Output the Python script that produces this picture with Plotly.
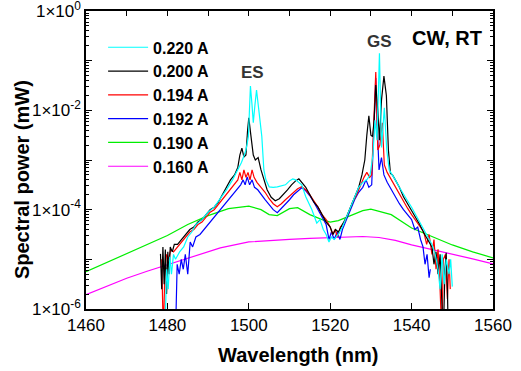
import plotly.graph_objects as go

# ---- data: wavelength (nm) and log10 of spectral power (mW) ----
wl_220 = [1479.4,1479.8,1480.2,1480.6,1481.0,1481.5,1482.0,1483.0,1484.0,1485.0,1486.0,1487.0,1488.5,1490.0,1491.5,1493.0,1494.5,1496.0,1497.3,1498.2,1498.7,1499.3,1499.9,1500.4,1500.8,1501.1,1501.5,1501.9,1502.4,1503.2,1503.7,1504.2,1505.0,1506.0,1507.0,1508.0,1509.0,1510.0,1510.8,1511.5,1512.3,1513.0,1514.0,1515.5,1516.7,1517.5,1518.3,1519.0,1519.7,1520.3,1521.0,1522.0,1523.0,1524.0,1525.0,1526.0,1527.0,1528.0,1529.0,1529.8,1530.5,1531.0,1531.5,1532.1,1532.6,1533.3,1533.9,1534.5,1535.3,1536.0,1537.0,1538.0,1539.0,1540.0,1541.0,1542.0,1543.0,1544.0,1545.0,1545.8,1546.5,1547.0,1547.5,1548.0,1548.5,1549.2,1549.6,1550.0]
lg_220 = [-6.5,-5.2,-5.6,-4.95,-5.3,-4.9,-5.0,-4.85,-4.75,-4.55,-4.45,-4.3,-4.2,-4.05,-3.95,-3.78,-3.6,-3.4,-3.2,-3.05,-2.94,-2.8,-2.53,-1.51,-1.9,-2.25,-1.9,-1.59,-1.95,-2.53,-3.2,-3.4,-3.54,-3.55,-3.54,-3.52,-3.5,-3.42,-3.38,-3.4,-3.45,-3.5,-3.74,-4.0,-4.27,-4.2,-4.4,-4.5,-4.65,-4.55,-4.6,-4.5,-4.35,-4.15,-3.95,-3.75,-3.55,-3.45,-3.4,-3.3,-2.9,-2.2,-2.6,-0.85,-2.75,-1.95,-2.8,-3.2,-3.3,-3.4,-3.55,-3.7,-3.82,-3.95,-4.1,-4.25,-4.42,-4.55,-4.7,-4.9,-5.2,-5.6,-4.9,-5.5,-5.0,-5.3,-5.0,-5.55]

wl_200 = [1478.3,1478.6,1478.9,1479.2,1479.5,1479.8,1480.1,1480.4,1480.7,1481.2,1481.7,1482.5,1483.5,1484.5,1485.5,1486.5,1487.5,1488.5,1489.5,1490.5,1491.5,1492.5,1493.5,1494.5,1495.5,1496.5,1497.3,1497.8,1498.3,1498.8,1499.3,1499.7,1500.0,1500.5,1501.1,1501.6,1502.3,1503.0,1503.7,1504.5,1505.5,1506.5,1507.5,1508.5,1509.5,1510.5,1511.5,1512.3,1513.0,1514.0,1515.0,1516.0,1517.0,1518.0,1519.0,1520.0,1520.7,1521.3,1522.0,1523.0,1524.0,1525.0,1526.0,1527.0,1527.8,1528.5,1529.0,1529.5,1530.0,1530.4,1530.8,1531.2,1531.7,1532.1,1532.6,1533.2,1533.8,1534.3,1534.8,1535.3,1536.0,1537.0,1538.0,1539.0,1540.0,1541.0,1542.0,1543.0,1544.0,1545.0,1545.5,1546.0,1546.5,1547.0,1547.4,1547.8,1548.2,1548.5,1548.8,1549.0]
lg_200 = [-4.89,-5.6,-4.75,-5.5,-4.8,-5.7,-4.85,-5.3,-4.75,-4.85,-4.7,-4.7,-4.6,-4.5,-4.4,-4.35,-4.25,-4.2,-4.1,-4.0,-3.95,-3.85,-3.7,-3.55,-3.4,-3.3,-3.15,-2.9,-2.76,-2.94,-2.9,-2.4,-2.15,-2.5,-2.9,-3.0,-2.95,-3.2,-3.4,-3.6,-3.75,-3.82,-3.78,-3.7,-3.6,-3.5,-3.42,-3.38,-3.45,-3.55,-3.7,-3.85,-3.95,-4.1,-4.25,-4.35,-4.5,-4.4,-4.45,-4.3,-4.15,-3.95,-3.75,-3.55,-3.3,-3.0,-2.5,-2.11,-2.5,-2.53,-2.2,-1.49,-2.0,-2.6,-1.8,-1.31,-1.7,-2.8,-3.27,-3.3,-3.4,-3.55,-3.74,-3.88,-4.0,-4.15,-4.3,-4.47,-4.6,-4.75,-5.1,-4.85,-5.3,-4.9,-5.8,-6.5,-5.2,-4.87,-5.6,-6.5]

wl_194 = [1478.6,1479.0,1479.4,1479.8,1480.3,1480.8,1481.5,1482.5,1483.5,1484.5,1485.5,1486.5,1487.5,1488.5,1489.5,1490.5,1491.5,1492.5,1493.5,1494.5,1495.5,1496.5,1497.3,1497.8,1498.3,1498.8,1499.3,1499.8,1500.3,1500.8,1501.3,1502.0,1503.0,1504.0,1505.0,1506.0,1507.0,1508.0,1509.0,1510.0,1511.0,1512.0,1513.0,1514.0,1515.0,1516.0,1517.0,1518.0,1519.0,1520.0,1520.6,1521.2,1521.8,1522.5,1523.5,1524.5,1525.5,1526.5,1527.5,1528.3,1529.0,1529.7,1530.2,1530.7,1531.2,1531.7,1532.2,1532.8,1533.3,1534.0,1535.0,1536.0,1537.0,1538.0,1539.0,1540.0,1541.0,1542.0,1543.0,1543.7,1544.3,1545.0,1545.5,1546.0,1546.5,1547.0,1547.4,1547.8,1548.3,1548.8,1549.2,1549.5]
lg_194 = [-5.0,-6.5,-5.2,-4.9,-5.0,-4.8,-4.85,-4.75,-4.65,-4.55,-4.45,-4.4,-4.3,-4.25,-4.15,-4.05,-4.0,-3.9,-3.8,-3.7,-3.6,-3.5,-3.4,-3.25,-3.4,-3.2,-3.35,-3.25,-3.4,-3.2,-3.35,-3.45,-3.55,-3.65,-3.78,-3.88,-3.94,-3.88,-3.8,-3.72,-3.65,-3.58,-3.54,-3.6,-3.7,-3.82,-3.95,-4.1,-4.2,-4.35,-4.5,-4.4,-4.55,-4.35,-4.25,-4.05,-3.85,-3.7,-3.5,-3.35,-3.25,-3.35,-3.3,-2.3,-1.23,-2.8,-2.7,-2.25,-3.1,-3.25,-3.4,-3.55,-3.7,-3.85,-3.97,-4.1,-4.22,-4.35,-4.45,-4.7,-4.5,-4.9,-4.6,-5.2,-4.8,-5.6,-6.5,-5.0,-4.9,-5.8,-5.0,-5.6]

wl_192 = [1482.0,1482.4,1482.9,1483.4,1483.9,1484.4,1485.0,1485.6,1486.2,1487.0,1488.0,1489.0,1490.0,1491.0,1492.0,1493.0,1494.0,1495.0,1496.0,1497.0,1498.0,1498.6,1499.1,1499.6,1500.2,1500.8,1501.4,1502.2,1503.0,1504.0,1505.0,1506.0,1507.0,1508.0,1509.0,1510.0,1511.0,1512.0,1513.0,1514.0,1515.0,1516.0,1517.0,1518.0,1519.0,1519.7,1520.3,1521.0,1521.7,1522.4,1523.0,1524.0,1525.0,1526.0,1527.0,1528.0,1528.8,1529.5,1530.2,1530.7,1531.2,1531.6,1532.0,1532.6,1533.2,1534.0,1535.0,1536.0,1537.0,1538.0,1539.0,1540.0,1540.8,1541.5,1542.2,1542.8,1543.3,1543.8,1544.3,1544.6]
lg_192 = [-6.5,-5.1,-5.3,-5.0,-5.2,-4.9,-5.3,-4.65,-4.75,-4.55,-4.5,-4.4,-4.3,-4.2,-4.1,-4.0,-3.9,-3.8,-3.7,-3.6,-3.5,-3.4,-3.5,-3.34,-3.5,-3.4,-3.55,-3.6,-3.7,-3.8,-3.9,-4.0,-4.06,-3.98,-3.9,-3.8,-3.7,-3.62,-3.56,-3.62,-3.72,-3.85,-4.0,-4.15,-4.3,-4.6,-4.45,-4.6,-4.45,-4.6,-4.4,-4.2,-4.0,-3.8,-3.65,-3.55,-3.4,-3.55,-3.5,-2.4,-1.35,-2.4,-3.2,-2.95,-3.3,-3.45,-3.6,-3.75,-3.88,-4.0,-4.1,-4.2,-4.4,-4.35,-4.6,-4.75,-5.1,-4.9,-5.37,-5.2]

wl_190 = [1460,1465,1470,1475,1480,1485,1490,1495,1500,1503,1505,1507,1510,1512,1515,1518,1520,1522,1525,1528,1530,1532,1535,1540,1545,1550,1555,1560]
lg_190 = [-5.25,-5.07,-4.88,-4.7,-4.52,-4.3,-4.12,-3.98,-3.93,-4.0,-4.1,-4.12,-3.98,-3.96,-4.1,-4.2,-4.25,-4.22,-4.12,-4.02,-3.99,-4.03,-4.1,-4.37,-4.54,-4.71,-4.85,-4.97]

wl_160 = [1460,1466,1470,1475,1480,1485,1490,1493,1500,1505,1510,1515,1520,1525,1528,1532,1536,1540,1545,1550,1555,1560]
lg_160 = [-5.71,-5.51,-5.38,-5.24,-5.11,-4.97,-4.85,-4.77,-4.65,-4.62,-4.6,-4.58,-4.57,-4.55,-4.54,-4.56,-4.62,-4.71,-4.8,-4.89,-4.99,-5.09]

labels = ["0.220 A", "0.200 A", "0.194 A", "0.192 A", "0.190 A", "0.160 A"]
colors = ["#00FFFF", "#000000", "#FF0000", "#0000FF", "#00EE00", "#FF00FF"]
series = [(wl_220, lg_220), (wl_200, lg_200), (wl_194, lg_194), (wl_192, lg_192), (wl_190, lg_190), (wl_160, lg_160)]

y_tickvals = [1, 1e-1, 1e-2, 1e-3, 1e-4, 1e-5, 1e-6]
y_ticktext = ["1×10<sup>0</sup>", "", "1×10<sup>-2</sup>", "", "1×10<sup>-4</sup>", "", "1×10<sup>-6</sup>"]
x_range = [1460, 1560]

FONT = "Arial, Liberation Sans, sans-serif"

fig = go.Figure()
for (wl, lg), name, col in reversed(list(zip(series, labels, colors))):
    fig.add_trace(go.Scatter(
        x=wl, y=[10 ** v for v in lg], mode="lines", name=f"<b>{name}</b>",
        line=dict(color=col, width=1.2)))
# carrier for the top axis (10 nm ticks)
fig.add_trace(go.Scatter(x=[], y=[], xaxis="x2", showlegend=False, hoverinfo="skip"))


def label(x, y, text, size, color="black", angle=0):
    return dict(x=x, y=y, xref="paper", yref="paper", text=text, textangle=angle,
                xanchor="center", yanchor="middle", showarrow=False,
                font=dict(size=size, color=color, family=FONT))


fig.update_layout(
    width=521, height=371,
    margin=dict(l=86, r=28, t=11, b=62, autoexpand=False),
    paper_bgcolor="white", plot_bgcolor="white",
    font=dict(family=FONT, color="black", size=17),
    showlegend=True,
    legend=dict(x=0.042, y=0.935, xanchor="left", yanchor="top",
                bgcolor="rgba(0,0,0,0)", traceorder="reversed",
                font=dict(size=16, family=FONT, color="black"),
                itemwidth=40, tracegroupgap=0),
    annotations=[
        label(0.408, 0.792, "<b>ES</b>", 17, "#333333"),
        label(0.720, 0.899, "<b>GS</b>", 17, "#333333"),
        label(0.887, 0.909, "<b>CW, RT</b>", 20),
        label(0.521, -0.154, "<b>Wavelength (nm)</b>", 20),
        label(-0.157, 0.433, "<b>Spectral power (mW)</b>", 20, angle=-90),
    ],
    xaxis=dict(
        range=x_range, dtick=20, tick0=1460,
        showline=True, linecolor="black", linewidth=1.5, mirror=True,
        ticks="inside", ticklen=6, tickwidth=1, tickcolor="black",
        showgrid=False, zeroline=False, automargin=False,
        tickfont=dict(size=17, family=FONT),
    ),
    xaxis2=dict(overlaying="x", side="top", range=x_range, dtick=10, tick0=1460,
                ticks="inside", ticklen=5, tickcolor="black", showticklabels=False,
                showgrid=False, zeroline=False, showline=False, automargin=False),
    yaxis=dict(
        type="log", range=[-6, 0],
        tickmode="array", tickvals=y_tickvals, ticktext=y_ticktext,
        showline=True, linecolor="black", linewidth=1.5, mirror="ticks",
        ticks="inside", ticklen=6, tickwidth=1, tickcolor="black",
        minor=dict(dtick="D1", ticks="inside", ticklen=3, tickcolor="black", showgrid=False),
        showgrid=False, zeroline=False, automargin=False, ticklabeloverflow="allow",
        tickfont=dict(size=17, family=FONT),
    ),
)

fig.write_html("out.html", config={"displayModeBar": False},
               post_script="document.body.style.margin='0';")
